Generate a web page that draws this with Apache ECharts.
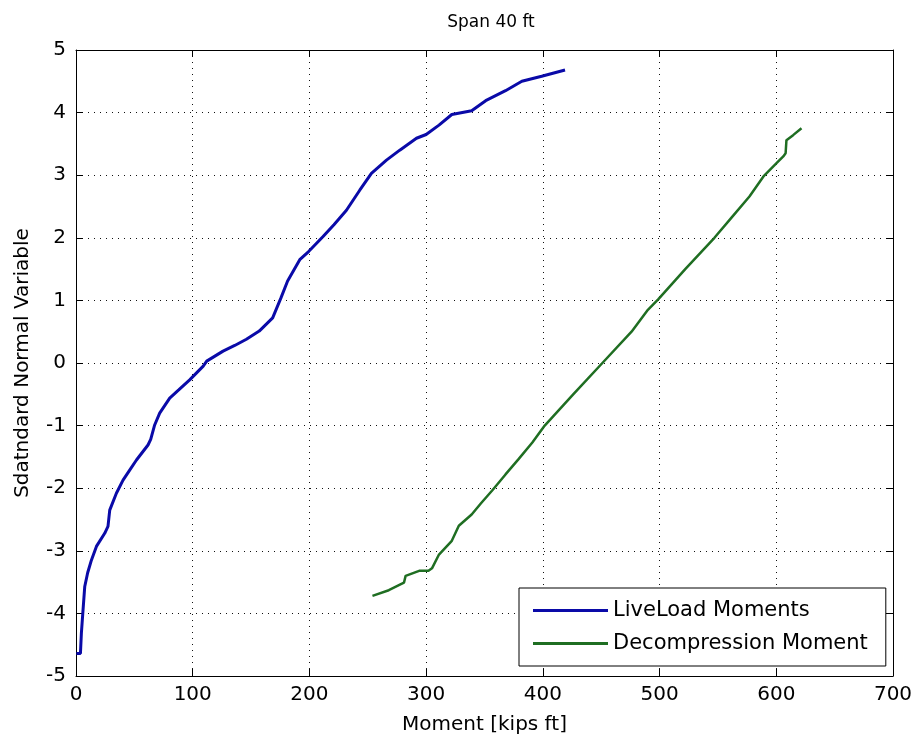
<!DOCTYPE html>
<html lang="en">
<head>
    <meta charset="UTF-8">
    <title>Span 40 ft</title>
    <script src="https://cdn.jsdelivr.net/npm/echarts@6.0.0/dist/echarts.min.js"></script>
    <style type="text/css">
        html, body {
            margin: 0;
            padding: 0;
            background: #fff;
        }

        #chart {
            width: 918px;
            height: 742px;
        }
    </style>
</head>
<body>
<div id="chart"></div>
<script type="text/javascript">
    // moment [kips ft] , standard normal variable
    const liveLoadMoments = [
        [0.3, -4.64], [3.8, -4.64], [4.6, -4.32], [6, -3.95], [7.5, -3.57], [10, -3.35],
        [13.2, -3.15], [17.5, -2.93], [24.6, -2.72], [27.4, -2.61], [28.9, -2.35], [34.6, -2.08],
        [40.3, -1.87], [46, -1.71], [51.8, -1.55], [61.7, -1.31], [64, -1.22], [67.4, -0.99],
        [71.7, -0.80], [80.3, -0.56], [88, -0.43], [97.4, -0.27], [109, -0.05], [112, 0.03],
        [126, 0.19], [136, 0.28], [146, 0.38], [157, 0.51], [168.5, 0.72], [175.6, 1.04],
        [181.3, 1.31], [191.7, 1.65], [199.3, 1.78], [211.7, 2.02], [221, 2.21], [231.7, 2.44],
        [243.1, 2.76], [253.1, 3.03], [266, 3.24], [277.4, 3.40], [291.7, 3.59], [300, 3.65],
        [311, 3.80], [322, 3.97], [339, 4.03], [351, 4.19], [368, 4.35], [382, 4.50],
        [399, 4.58], [419, 4.68]
    ];
    const decompressionMoment = [
        [254, -3.72], [268, -3.63], [281, -3.51], [282.4, -3.40], [294, -3.32], [302, -3.32],
        [305, -3.28], [311, -3.06], [322, -2.84], [328, -2.60], [339, -2.42], [347, -2.24],
        [356.4, -2.04], [368, -1.78], [379, -1.54], [391, -1.27], [401.6, -1.0], [426, -0.50],
        [452, 0.02], [476, 0.50], [490, 0.85], [499, 1.02], [522, 1.50], [547, 2.0],
        [562, 2.33], [577, 2.66], [589, 2.98], [600, 3.19], [606, 3.30], [608, 3.35],
        [608.7, 3.56], [614.4, 3.64], [621.6, 3.75]
    ];
    const seriesNames = ["LiveLoad Moments", "Decompression Moment"];
    const seriesColors = ["#0a0aa8", "#1f6e22"];

    const font = "DejaVu Sans";
    const boxAxis = (pos, isX) => ({
        type: "value",
        position: pos,
        min: isX ? 0 : -5,
        max: isX ? 700 : 5,
        interval: isX ? 100 : 1,
        axisLine: {show: true, onZero: false, lineStyle: {color: "#000", width: 1}},
        axisTick: {show: true, inside: true, length: 7, lineStyle: {color: "#000"}},
        axisLabel: {show: false},
        splitLine: {show: false}
    });

    const chart = echarts.init(document.getElementById("chart"));
    chart.setOption({
        animation: false,
        backgroundColor: "#fff",
        textStyle: {fontFamily: font},
        title: {
            text: "Span 40 ft",
            left: 486,
            top: 9,
            textAlign: "center",
            textStyle: {fontFamily: font, fontSize: 17, fontWeight: "normal", color: "#000"}
        },
        grid: {left: 76, right: 25, top: 50, bottom: 66},
        legend: {
            orient: "vertical",
            left: 519,
            top: 588,
            padding: [12, 18, 12, 14],
            itemGap: 12,
            itemWidth: 75,
            itemHeight: 3,
            icon: "rect",
            backgroundColor: "#fff",
            borderColor: "#000",
            borderWidth: 1,
            borderRadius: 0,
            textStyle: {fontFamily: font, fontSize: 21, color: "#000"},
            data: seriesNames
        },
        xAxis: [{
            type: "value",
            min: 0,
            max: 700,
            interval: 100,
            name: "Moment [kips ft]",
            nameLocation: "middle",
            nameGap: 39,
            nameTextStyle: {fontFamily: font, fontSize: 20, color: "#000"},
            axisLine: {show: true, onZero: false, lineStyle: {color: "#000", width: 1}},
            axisTick: {show: true, inside: true, length: 7, lineStyle: {color: "#000"}},
            axisLabel: {fontFamily: font, fontSize: 20, color: "#000", margin: 9},
            splitLine: {show: true, lineStyle: {color: "#111", type: [1, 5], width: 1}}
        }, boxAxis("top", true)],
        yAxis: [{
            type: "value",
            min: -5,
            max: 5,
            interval: 1,
            name: "Sdatndard Normal Variable",
            nameLocation: "middle",
            nameGap: 43,
            nameTextStyle: {fontFamily: font, fontSize: 20, color: "#000"},
            axisLine: {show: true, onZero: false, lineStyle: {color: "#000", width: 1}},
            axisTick: {show: true, inside: true, length: 7, lineStyle: {color: "#000"}},
            axisLabel: {fontFamily: font, fontSize: 20, color: "#000", margin: 10},
            splitLine: {show: true, lineStyle: {color: "#111", type: [1, 5], width: 1}}
        }, boxAxis("right", false)],
        series: [
            {
                name: seriesNames[0],
                type: "line",
                data: liveLoadMoments,
                showSymbol: false,
                symbol: "none",
                color: seriesColors[0],
                lineStyle: {width: 3, color: seriesColors[0]}
            },
            {
                name: seriesNames[1],
                type: "line",
                data: decompressionMoment,
                showSymbol: false,
                symbol: "none",
                color: seriesColors[1],
                lineStyle: {width: 2.5, color: seriesColors[1]}
            }
        ]
    });
</script>
</body>
</html>
